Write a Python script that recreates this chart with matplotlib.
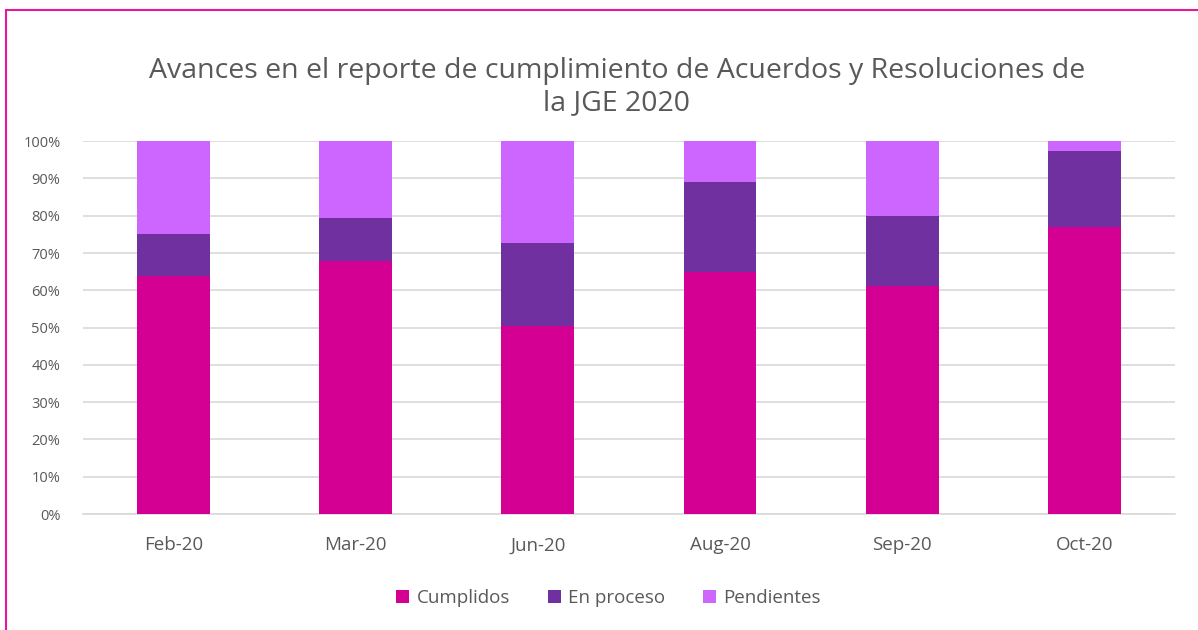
import numpy as np
import matplotlib.pyplot as plt
from matplotlib.patches import Rectangle
from matplotlib.ticker import PercentFormatter

plt.rcParams['font.family'] = ['Open Sans', 'DejaVu Sans']

months = ['Feb-20', 'Mar-20', 'Jun-20', 'Aug-20', 'Sep-20', 'Oct-20']
cumplidos = np.array([63.9, 67.8, 50.5, 65.0, 61.2, 76.9])
en_proceso = np.array([11.1, 11.5, 22.2, 24.1, 18.7, 20.5])
pendientes = 100 - cumplidos - en_proceso

c_cump = '#D40094'
c_proc = '#7030A0'
c_pend = '#CC66FF'
txt = '#595959'

fig = plt.figure(figsize=(11.98, 6.3), dpi=100)
ax = fig.add_axes([0.069, 0.184, 0.912, 0.592])

x = np.arange(len(months))
w = 0.4
ax.bar(x, cumplidos, w, color=c_cump, label='Cumplidos', zorder=3)
ax.bar(x, en_proceso, w, bottom=cumplidos, color=c_proc, label='En proceso', zorder=3)
ax.bar(x, pendientes, w, bottom=cumplidos + en_proceso, color=c_pend, label='Pendientes', zorder=3)

ax.set_xlim(-0.5, len(months) - 0.5)
ax.set_ylim(0, 100)
ax.set_yticks(np.arange(0, 101, 10))
ax.yaxis.set_major_formatter(PercentFormatter(decimals=0))
ax.set_xticks(x)
ax.set_xticklabels(months)
ax.grid(axis='y', color='#D9D9D9', linewidth=1.2, zorder=0)
ax.tick_params(axis='y', length=0, labelsize=10.5, labelcolor=txt, pad=16)
ax.tick_params(axis='x', length=0, labelsize=13.5, labelcolor=txt, pad=16)
for s in ['top', 'right', 'left']:
    ax.spines[s].set_visible(False)
ax.spines['bottom'].set_color('#D9D9D9')
ax.spines['bottom'].set_linewidth(1.2)

fig.text(0.515, 0.862, 'Avances en el reporte de cumplimiento de Acuerdos y Resoluciones de\nla JGE 2020',
         ha='center', va='center', fontsize=20.5, color=txt, linespacing=1.2)

fig.legend(loc='center', bbox_to_anchor=(0.508, 0.051), ncol=3, frameon=False,
           fontsize=13.5, labelcolor=txt, handlelength=0.7, handleheight=0.7,
           handletextpad=0.4, columnspacing=2.0)

fig.patches.append(Rectangle((0.005, -0.05), 1.2, 1.034, transform=fig.transFigure,
                             fill=False, edgecolor='#E6189E', linewidth=1.5))

fig.savefig('out.png', dpi=100)
